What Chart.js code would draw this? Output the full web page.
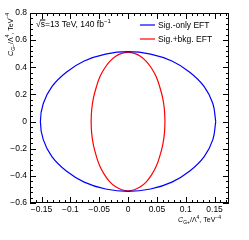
<!DOCTYPE html>
<html>
<head>
<meta charset="utf-8">
<script src="https://cdn.jsdelivr.net/npm/chart.js@4.4.1/dist/chart.umd.min.js"></script>
<style>
  html, body { margin: 0; padding: 0; background: #fff; }
  #c { display: block; }
</style>
</head>
<body>
<canvas id="c" width="249" height="240"></canvas>
<script>
// axis ranges and tick labels
const xRange = [-0.17, 0.175];
const yRange = [-0.6, 0.8];
const xTicks = [-0.15, -0.1, -0.05, 0, 0.05, 0.1, 0.15];
const yTicks = [-0.6, -0.4, -0.2, 0, 0.2, 0.4, 0.6, 0.8];

const seriesNames = ['Sig.-only EFT', 'Sig.+bkg. EFT'];
const seriesColors = ['#0000ff', '#ff0000'];

// contour points (closed loops)
const blueX = [0.152, 0.147, 0.132, 0.107, 0.076, 0.039, 0, -0.039, -0.076, -0.107, -0.132, -0.147,
               -0.152, -0.147, -0.132, -0.107, -0.076, -0.039, 0, 0.039, 0.076, 0.107, 0.132, 0.147, 0.152];
const blueY = [0, 0.133, 0.258, 0.364, 0.446, 0.497, 0.515, 0.497, 0.446, 0.364, 0.258, 0.133,
               0, -0.133, -0.258, -0.364, -0.446, -0.497, -0.515, -0.497, -0.446, -0.364, -0.258, -0.133, 0];
const redX = [0.064, 0.063, 0.060, 0.055, 0.049, 0.041, 0.032, 0.022, 0.011, 0, -0.011, -0.022,
              -0.032, -0.041, -0.049, -0.055, -0.060, -0.063, -0.064, -0.063, -0.060, -0.055, -0.049, -0.041,
              -0.032, -0.022, -0.011, 0, 0.011, 0.022, 0.032, 0.041, 0.049, 0.055, 0.060, 0.063, 0.064];
const redY = [0, 0.089, 0.174, 0.255, 0.328, 0.391, 0.442, 0.479, 0.502, 0.51, 0.502, 0.479,
              0.442, 0.391, 0.328, 0.255, 0.174, 0.089, 0, -0.089, -0.174, -0.255, -0.328, -0.391,
              -0.442, -0.479, -0.502, -0.51, -0.502, -0.479, -0.442, -0.391, -0.328, -0.255, -0.174, -0.089, 0];

const FONT = '"Liberation Sans", Arial, Helvetica, sans-serif';

function fmt(v) {
    const s = String(Math.round(Math.abs(v) * 1000) / 1000);
    return v < -1e-9 ? '\u2212' + s : s;
}

function toPoints(xs, ys) {
    return xs.map((x, i) => ({ x: x, y: ys[i] }));
}

// draws a run of [text, size, dy, italic] pieces, returns width
function drawPieces(ctx, pieces, x, y, measureOnly) {
    let cx = x;
    pieces.forEach(p => {
        ctx.font = (p[3] ? 'italic ' : '') + p[1] + 'px ' + FONT;
        if (!measureOnly) ctx.fillText(p[0], cx, y + p[2]);
        cx += ctx.measureText(p[0]).width;
    });
    return cx - x;
}

const rootFrame = {
    id: 'rootFrame',
    afterDraw(chart) {
        const { ctx, chartArea: a, scales: { x, y } } = chart;
        ctx.save();
        ctx.strokeStyle = '#000';
        ctx.lineWidth = 1;

        // frame
        ctx.strokeRect(a.left + 0.5, a.top + 0.5, a.right - a.left - 1, a.bottom - a.top - 1);

        // ticks inside on all sides
        ctx.beginPath();
        for (let i = -17; i <= 17; i++) {
            const len = (i % 5 === 0) ? 6 : 3;
            const px = Math.round(x.getPixelForValue(i / 100)) + 0.5;
            ctx.moveTo(px, a.bottom); ctx.lineTo(px, a.bottom - len);
            ctx.moveTo(px, a.top); ctx.lineTo(px, a.top + len);
        }
        for (let i = -15; i <= 20; i++) {
            const len = (i % 5 === 0) ? 6 : 3;
            const py = Math.round(y.getPixelForValue(i * 0.04)) + 0.5;
            ctx.moveTo(a.left, py); ctx.lineTo(a.left + len, py);
            ctx.moveTo(a.right, py); ctx.lineTo(a.right - len, py);
        }
        ctx.stroke();

        ctx.fillStyle = '#000';
        ctx.textBaseline = 'alphabetic';

        // sqrt(s) label
        ctx.font = '8.5px ' + FONT;
        const sx = 36, sy = 27;
        ctx.fillText('\u221A', sx, sy);
        const rw = ctx.measureText('\u221A').width;
        const sw = ctx.measureText('s').width;
        ctx.beginPath();
        ctx.moveTo(sx + rw - 0.5, sy - 7.5 + 0.5);
        ctx.lineTo(sx + rw + sw + 0.5, sy - 7.5 + 0.5);
        ctx.stroke();
        drawPieces(ctx, [['s=13 TeV, 140 fb', 8.5, 0], ['\u22121', 6, -4]], sx + rw, sy);

        // legend
        ctx.lineWidth = 1.2;
        ctx.textBaseline = 'middle';
        ctx.font = '8.5px ' + FONT;
        chart.data.datasets.forEach((ds, i) => {
            const ly = 25 + i * 14;
            ctx.strokeStyle = ds.borderColor;
            ctx.beginPath();
            ctx.moveTo(140, ly); ctx.lineTo(155, ly);
            ctx.stroke();
            ctx.fillText(ds.label, 158, ly + 0.5);
        });

        // axis titles
        ctx.textBaseline = 'alphabetic';
        const xTitle = [['C', 7, 0, true], ['G+', 5, 2, false], ['/\u039B', 7, 0], ['4', 5, -3.5],
                        [', TeV', 7, 0], ['\u22124', 5, -3.5]];
        const xw = drawPieces(ctx, xTitle, 0, 0, true);
        drawPieces(ctx, xTitle, 221 - xw, 222);

        const yTitle = [['C', 7, 0, true], ['G\u2212', 5, 2, false], ['/\u039B', 7, 0], ['4', 5, -3.5],
                        [', TeV', 7, 0], ['\u22124', 5, -3.5]];
        const yw = drawPieces(ctx, yTitle, 0, 0, true);
        ctx.translate(12.5, 13);
        ctx.rotate(-Math.PI / 2);
        drawPieces(ctx, yTitle, -yw, 0);
        ctx.restore();
    }
};

new Chart(document.getElementById('c'), {
    type: 'scatter',
    data: {
        datasets: [
            {
                label: seriesNames[0],
                data: toPoints(blueX, blueY),
                showLine: true, borderColor: seriesColors[0], borderWidth: 1.2,
                pointRadius: 0, tension: 0.4, fill: false
            },
            {
                label: seriesNames[1],
                data: toPoints(redX, redY),
                showLine: true, borderColor: seriesColors[1], borderWidth: 1.2,
                pointRadius: 0, tension: 0.4, fill: false
            }
        ]
    },
    options: {
        responsive: false,
        devicePixelRatio: 1,
        animation: false,
        layout: { padding: { top: 13, right: 20, left: 0, bottom: 0 } },
        plugins: { legend: { display: false }, tooltip: { enabled: false } },
        scales: {
            x: {
                type: 'linear', min: xRange[0], max: xRange[1],
                grid: { display: false, drawTicks: false },
                border: { display: false },
                ticks: {
                    font: { family: FONT, size: 8.5 }, color: '#000', padding: 2,
                    maxRotation: 0, autoSkip: false, callback: v => fmt(v)
                },
                afterBuildTicks: s => { s.ticks = xTicks.map(v => ({ value: v })); },
                afterFit: s => { s.height = 37; }
            },
            y: {
                type: 'linear', min: yRange[0], max: yRange[1],
                grid: { display: false, drawTicks: false },
                border: { display: false },
                ticks: {
                    font: { family: FONT, size: 8.5 }, color: '#000', padding: 3,
                    autoSkip: false, callback: v => fmt(v)
                },
                afterBuildTicks: s => { s.ticks = yTicks.map(v => ({ value: v })); },
                afterFit: s => { s.width = 30; }
            }
        }
    },
    plugins: [rootFrame]
});
</script>
</body>
</html>
